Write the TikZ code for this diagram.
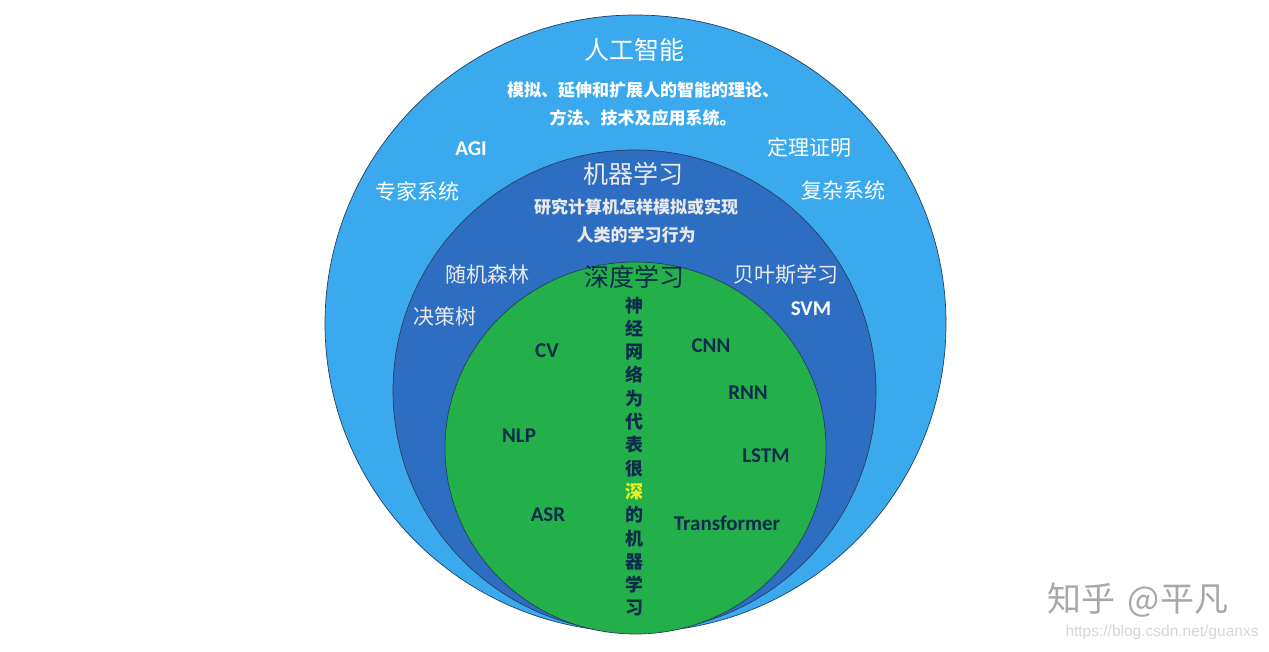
\documentclass[tikz,border=0pt]{standalone}
\usepackage{fontspec}
\setmainfont{Carlito}
\newfontfamily\cjk{Noto Sans CJK SC}
\newfontfamily\lat{Carlito}
\usetikzlibrary{shapes.geometric}
\definecolor{aiblue}{HTML}{3AA9EE}
\definecolor{mlblue}{HTML}{2E6EC2}
\definecolor{dlgreen}{HTML}{23B04A}
\definecolor{edge}{HTML}{24405F}
\definecolor{navy}{HTML}{0C2B4C}
\definecolor{light}{HTML}{EAEAEA}
\definecolor{wm}{HTML}{A8A8A8}
\definecolor{wmurl}{HTML}{D6D6D6}
\definecolor{hl}{HTML}{F2F21A}
\tikzset{
  x=1pt, y=-1pt,
  field/.style={ellipse, draw=edge, line width=0.7pt, inner sep=0},
  cjklab/.style={inner sep=0, font=\cjk\fontsize{21}{25}\selectfont},
  cjktitle/.style={inner sep=0, font=\cjk\fontsize{25}{30}\selectfont},
  cjkdesc/.style={inner sep=0, font=\cjk\bfseries\fontsize{17}{20}\selectfont},
  latlab/.style={inner sep=0, font=\lat\bfseries\fontsize{21}{25}\selectfont},
}
\begin{document}
\begin{tikzpicture}
\fill[white] (0,0) rectangle (1269,651);
\useasboundingbox (0,0) rectangle (1269,651);

% nested fields
\node[field, fill=aiblue, minimum width=621pt, minimum height=617pt] (ai) at (635.5,323.5) {};
\node[field, fill=mlblue, minimum width=483pt, minimum height=482pt] (ml) at (634.5,391) {};
\node[field, fill=dlgreen, minimum width=381pt, minimum height=372pt] (dl) at (635.5,448) {};

% artificial intelligence
\node[cjktitle, text=white] (aititle) at (634,50) {人工智能};
\node[cjkdesc, text=white] (aid1) at (643,90) {模拟、延伸和扩展人的智能的理论、};
\node[cjkdesc, text=white] (aid2) at (643,118) {方法、技术及应用系统。};
\node[latlab, text=white] (agi) at (471,149) {AGI};
\node[cjklab, text=white] (thm) at (809,148) {定理证明};
\node[cjklab, text=white] (expert) at (417,191) {专家系统};
\node[cjklab, text=white] (complex) at (843,190) {复杂系统};

% machine learning
\node[cjktitle, text=light] (mltitle) at (633,174) {机器学习};
\node[cjkdesc, text=light] (mld1) at (636,207) {研究计算机怎样模拟或实现};
\node[cjkdesc, text=light] (mld2) at (636,235) {人类的学习行为};
\node[cjklab, text=light] (rf) at (487,275) {随机森林};
\node[cjklab, text=light] (bayes) at (786,275) {贝叶斯学习};
\node[cjklab, text=light] (tree) at (445,316) {决策树};
\node[latlab, text=white] (svm) at (811,309) {SVM};

% deep learning
\node[cjktitle, text=navy] (dltitle) at (634,277) {深度学习};
\node[inner sep=0, align=center, text=navy, font=\cjk\bfseries\fontsize{18}{23.3}\selectfont] (vert) at (634,456.5)
  {神\\经\\网\\络\\为\\代\\表\\很\\\textcolor{hl}{深}\\的\\机\\器\\学\\习};
\node[latlab, text=navy] (cv) at (547,351) {CV};
\node[latlab, text=navy] (nlp) at (519,436) {NLP};
\node[latlab, text=navy] (asr) at (548,515) {ASR};
\node[latlab, text=navy] (cnn) at (711,346) {CNN};
\node[latlab, text=navy] (rnn) at (748,393) {RNN};
\node[latlab, text=navy] (lstm) at (766,456) {LSTM};
\node[latlab, text=navy] (trans) at (727,523) {Transformer};

% watermark
\node[inner sep=0, text=wm, font=\cjk\fontsize{34}{38}\selectfont] (wm) at (1138,600) {知乎\hspace{12pt}@平凡};
\node[inner sep=0, text=wmurl, font=\fontspec{Liberation Sans}\fontsize{15.5}{18}\selectfont] (url) at (1162,632) {https://blog.csdn.net/guanxs};
\end{tikzpicture}
\end{document}
